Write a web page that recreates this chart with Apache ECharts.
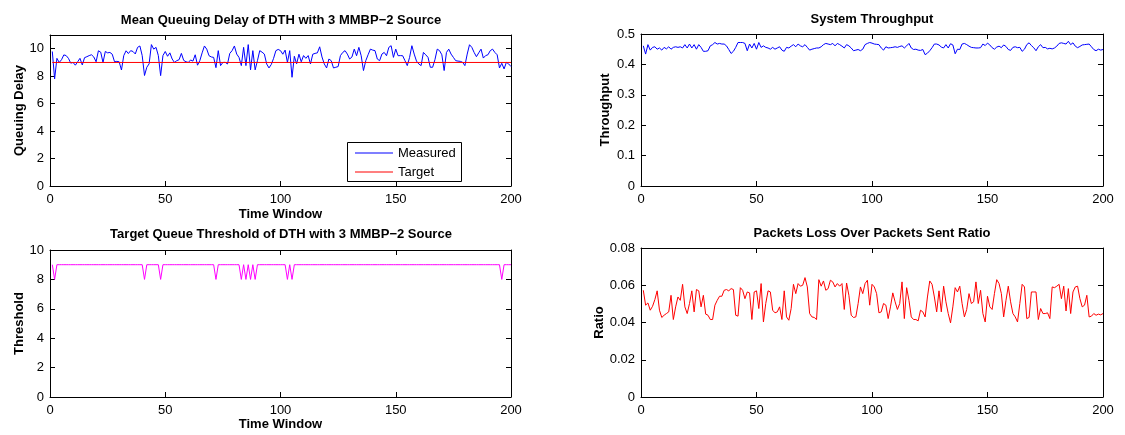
<!DOCTYPE html>
<html><head><meta charset="utf-8">
<script src="https://cdn.jsdelivr.net/npm/echarts@6/dist/echarts.min.js"></script>
<style>html,body{margin:0;padding:0;background:#fff}#c{width:1125px;height:435px}</style>
</head><body><div id="c"></div>
<script>
// ---- data ----
const xTicks = [0, 50, 100, 150, 200];
const legendNames = ['Measured', 'Target'];
const measuredDelay = [
 9.8,7.8,9.3,9.0,9.2,9.55,9.5,9.3,8.95,9.0,
 8.8,9.05,9.3,8.82,9.35,9.42,9.5,9.56,9.4,9.05,
 9.85,9.75,9.0,9.8,9.7,9.73,9.6,9.05,9.08,9.05,
 8.45,9.5,9.85,9.65,9.86,9.8,9.62,10.1,10.2,9.5,
 8.05,8.65,8.9,10.3,9.97,10.1,9.5,8.04,9.5,9.8,
 9.45,9.7,9.25,9.0,9.13,9.2,9.66,9.15,9.05,9.0,
 9.18,9.1,9.56,8.8,9.13,9.7,10.2,9.97,9.49,9.4,
 9.37,8.62,9.86,8.77,9.0,9.01,8.89,9.66,9.86,10.2,
 9.61,9.37,8.77,10.1,8.77,10.3,8.46,9.86,8.46,9.13,
 9.86,9.75,9.61,8.89,8.6,8.85,9.3,9.86,9.95,9.86,
 9.6,9.9,9.0,9.86,7.92,9.45,8.9,9.6,9.05,9.5,
 9.3,9.5,8.89,9.6,9.66,9.7,10.14,9.4,8.89,8.6,
 9.25,9.13,8.6,8.65,8.7,9.5,9.73,9.86,9.61,9.25,
 9.4,9.97,9.49,10.1,9.49,8.41,9.13,9.56,9.97,9.9,
 9.86,9.25,9.13,9.61,9.73,9.49,10.1,10.22,9.37,9.97,
 9.49,9.5,9.49,9.13,8.77,9.37,10.22,9.61,9.1,8.89,
 8.77,9.73,9.56,9.37,8.65,8.65,9.2,9.97,9.86,9.56,
 8.41,9.73,9.97,9.61,9.37,9.13,9.1,9.08,9.01,8.77,
 9.61,10.29,10.1,9.73,9.42,9.7,9.97,9.32,9.5,9.56,
 9.86,9.97,9.73,9.56,8.6,8.94,8.53,9.01,8.89,8.7
];
const targetPoints = [[1, 9], [200, 9]];
const threshold = [
 9,8,9,9,9,9,9,9,9,9,9,9,9,9,9,9,9,9,9,9,
 9,9,9,9,9,9,9,9,9,9,9,9,9,9,9,9,9,9,9,9,
 8,9,9,9,9,9,9,8,9,9,9,9,9,9,9,9,9,9,9,9,
 9,9,9,9,9,9,9,9,9,9,9,8,9,9,9,9,9,9,9,9,
 9,9,8,9,8,9,8,9,8,9,9,9,9,9,9,9,9,9,9,9,
 9,9,8,9,8,9,9,9,9,9,9,9,9,9,9,9,9,9,9,9,
 9,9,9,9,9,9,9,9,9,9,9,9,9,9,9,9,9,9,9,9,
 9,9,9,9,9,9,9,9,9,9,9,9,9,9,9,9,9,9,9,9,
 9,9,9,9,9,9,9,9,9,9,9,9,9,9,9,9,9,9,9,9,
 9,9,9,9,9,9,9,9,9,9,9,9,9,9,9,8,9,9,9,9
];
const throughput = [
 .461,.434,.465,.447,.456,.458,.450,.454,.447,.456,
 .451,.458,.450,.456,.458,.456,.458,.454,.465,.454,
 .467,.454,.465,.450,.465,.456,.443,.443,.445,.461,
 .465,.472,.467,.469,.467,.467,.461,.449,.436,.443,
 .456,.472,.472,.472,.469,.445,.467,.454,.469,.450,
 .472,.456,.461,.456,.454,.450,.456,.450,.454,.458,
 .447,.443,.456,.454,.460,.465,.458,.467,.461,.458,
 .465,.456,.447,.450,.452,.454,.454,.458,.465,.469,
 .467,.465,.469,.461,.469,.465,.460,.454,.465,.461,
 .454,.445,.447,.449,.445,.450,.465,.469,
 .472,.470,.467,.466,.465,.454,.447,.458,.454,.455,
 .456,.458,.456,.459,.461,.454,.461,.469,.454,.449,
 .450,.447,.446,.449,.432,.437,.445,.455,.467,.467,
 .464,.457,.454,.465,.454,.468,.464,.435,.450,.449,
 .467,.469,.465,.460,.456,.455,.454,.454,.455,.467,
 .462,.470,.464,.455,.450,.457,.460,.455,.464,.459,
 .449,.446,.456,.458,.455,.456,.443,.450,.465,.471,
 .462,.455,.445,.458,.465,.455,.456,.451,.453,.451,
 .454,.460,.469,.471,.469,.467,.476,.465,.471,.460,
 .455,.459,.464,.465,.466,.467,.458,.449,.445,.450,
 .447,.449
];
const lossRatio = [
 .0573,.0493,.0505,.0466,.0487,.0523,.0570,.0466,.0427,.0439,
 .0448,.0457,.0546,.0416,.0484,.0537,.0519,.0605,.0484,.0448,
 .0502,.0570,.0457,.0577,.0570,.0484,.0546,.0445,.0439,.0416,
 .0416,.0493,.0519,.0541,.0541,.0573,.0577,.0570,.0582,.0577,
 .0439,.0434,.0587,.0573,.0528,.0564,.0559,.0416,.0564,.0570,
 .0475,.0609,.0403,.0502,.0570,.0564,.0466,.0452,.0457,.0484,
 .0416,.0570,.0430,.0412,.0475,.0605,.0555,.0609,.0595,.0600,
 .0641,.0591,.0448,.0430,.0427,.0416,.0630,.0595,.0623,.0573,
 .0582,.0627,.0618,.0591,.0609,.0595,.0609,.0470,.0612,.0546,
 .0439,.0427,.0430,.0502,.0591,.0555,.0609,
 .0627,.0493,.0605,
 .0591,.0555,.0452,.0457,.0502,.0493,.0421,.0484,.0559,.0511,
 .0470,.0502,.0618,.0421,.0587,.0519,.0430,.0416,.0416,.0409,
 .0466,.0457,.0430,.0537,.0623,.0605,.0537,.0457,.0570,.0457,
 .0595,.0511,.0448,.0398,.0484,.0587,.0564,.0595,.0502,.0430,
 .0470,.0555,.0502,.0511,.0618,.0502,.0573,.0448,.0403,.0541,
 .0484,.0470,.0555,.0630,.0609,.0555,.0430,.0519,.0595,.0511,
 .0448,.0430,.0403,.0502,.0605,.0591,.0421,.0427,.0564,.0564,
 .0564,.0416,.0475,.0448,.0448,.0452,.0421,.0591,.0587,.0595,
 .0605,.0528,.0595,.0462,.0582,.0448,.0564,.0591,.0595,.0528,
 .0484,.0493,.0546,.0430,.0434,.0448,.0439,.0445,.0441,.0448
];

// ---- chart ----
const FONT = '"Liberation Sans", Arial, Helvetica, sans-serif';
const BLUE = '#0000ff', RED = '#ff0000', MAGENTA = '#ff00ff';
const chart = echarts.init(document.getElementById('c'), null, {renderer: 'canvas'});
const grids = [
  {left: 50, top: 35, width: 461, height: 151},
  {left: 641, top: 34, width: 462, height: 152},
  {left: 50, top: 250, width: 461, height: 147},
  {left: 641, top: 248, width: 462, height: 149}
];
const lineCol = {color: '#000', width: 1};
function xPair(gi, name, gap) {
  const base = {type: 'value', gridIndex: gi, min: xTicks[0], max: xTicks[xTicks.length - 1], interval: xTicks[1] - xTicks[0],
    axisLine: {show: true, onZero: false, lineStyle: lineCol}, splitLine: {show: false},
    axisTick: {show: true, inside: true, length: 5, lineStyle: lineCol}};
  return [
    Object.assign({}, base, {position: 'bottom',
      axisLabel: {color: '#000', fontSize: 13, fontFamily: FONT, margin: 7},
      name: name || '', nameLocation: 'middle', nameGap: gap || 0,
      nameTextStyle: {color: '#000', fontSize: 13, fontWeight: 'bold', fontFamily: FONT}}),
    Object.assign({}, base, {position: 'top', axisLabel: {show: false}})
  ];
}
function yPair(gi, min, max, interval, name, gap, hideMax) {
  const base = {type: 'value', gridIndex: gi, min, max, interval,
    axisLine: {show: true, onZero: false, lineStyle: lineCol}, splitLine: {show: false},
    axisTick: {show: true, inside: true, length: 5, lineStyle: lineCol}};
  return [
    Object.assign({}, base, {position: 'left',
      axisLabel: {color: '#000', fontSize: 13, fontFamily: FONT, margin: 6, showMaxLabel: !hideMax},
      name, nameLocation: 'middle', nameGap: gap,
      nameTextStyle: {color: '#000', fontSize: 13, fontWeight: 'bold', fontFamily: FONT}}),
    Object.assign({}, base, {position: 'right', axisLabel: {show: false}})
  ];
}
const xAxis = [].concat(xPair(0, 'Time Window', 22), xPair(1), xPair(2, 'Time Window', 21), xPair(3));
const yAxis = [].concat(
  yPair(0, 0, 11, 2, 'Queuing Delay', 24, true),
  yPair(1, 0, 0.5, 0.1, 'Throughput', 29, false),
  yPair(2, 0, 10, 2, 'Threshold', 24, false),
  yPair(3, 0, 0.08, 0.02, 'Ratio', 29, false)
);
const toXY = arr => arr.map((v, i) => [i + 1, v]);
function ser(name, data, xi, yi, color) {
  return {name, type: 'line', xAxisIndex: xi, yAxisIndex: yi, data, symbol: 'none', showSymbol: false,
    lineStyle: {color, width: 1}, itemStyle: {color}, emphasis: {disabled: true}, silent: true};
}
const titles = [
  ['Mean Queuing Delay of DTH with 3 MMBP\u22122 Source', 281, 20],
  ['System Throughput', 872, 19],
  ['Target Queue Threshold of DTH with 3 MMBP\u22122 Source', 281, 234],
  ['Packets Loss Over Packets Sent Ratio', 872, 233]
];
const titleGraphics = titles.map(t => ({type: 'text', x: t[1], y: t[2], silent: true,
    style: {text: t[0], align: 'center', verticalAlign: 'middle', fill: '#000', font: 'bold 13px ' + FONT}}));
// legend box (top-left panel)
const legendColors = [BLUE, RED];
const legendGraphic = {
  type: 'group', x: 347, y: 142, z: 100, silent: true,
  children: [
    {type: 'rect', shape: {x: 0.5, y: 0.5, width: 114, height: 39}, style: {fill: '#fff', stroke: '#000', lineWidth: 1}, z: 100},
  ].concat(...legendNames.map((n, i) => [
    {type: 'line', shape: {x1: 8, y1: 11 + i * 19, x2: 46, y2: 11 + i * 19}, style: {stroke: legendColors[i], lineWidth: 1.2}, z: 101},
    {type: 'text', x: 51, y: 11.5 + i * 18.5, style: {text: n, align: 'left', verticalAlign: 'middle', fill: '#000', font: '13px ' + FONT}, z: 101}
  ]))
};
chart.setOption({
  animation: false,
  backgroundColor: '#fff',
  grid: grids,
  xAxis, yAxis,
  graphic: titleGraphics.concat([legendGraphic]),
  series: [
    ser(legendNames[0], toXY(measuredDelay), 0, 0, BLUE),
    ser(legendNames[1], targetPoints, 0, 0, RED),
    ser('System Throughput', toXY(throughput), 2, 2, BLUE),
    ser('Threshold', toXY(threshold), 4, 4, MAGENTA),
    ser('Loss Ratio', toXY(lossRatio), 6, 6, RED)
  ]
});
</script></body></html>
